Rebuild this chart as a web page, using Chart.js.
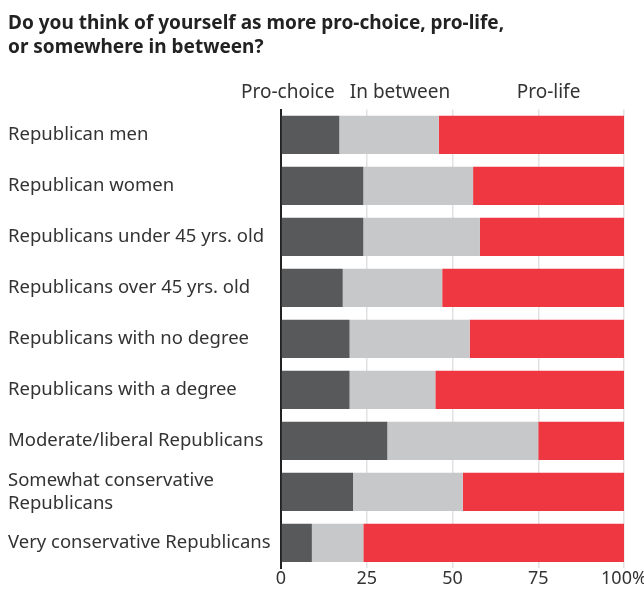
<!DOCTYPE html>
<html>
<head>
<meta charset="utf-8">
<script src="https://cdn.jsdelivr.net/npm/chart.js@4/dist/chart.umd.min.js"></script>
<style>
  body { margin: 0; background: #fff; }
  #wrap { width: 644px; height: 604px; }
</style>
</head>
<body>
<div id="wrap"><canvas id="chart"></canvas></div>
<script>
const categories = [
  "Republican men",
  "Republican women",
  "Republicans under 45 yrs. old",
  "Republicans over 45 yrs. old",
  "Republicans with no degree",
  "Republicans with a degree",
  "Moderate/liberal Republicans",
  ["Somewhat conservative", "Republicans"],
  "Very conservative Republicans"
];
const proChoice = [17, 24, 24, 18, 20, 20, 31, 21, 9];
const inBetween = [29, 32, 34, 29, 35, 25, 44, 32, 15];
const proLife   = [54, 44, 42, 53, 45, 55, 25, 47, 76];
const xTicks = [0, 25, 50, 75, 100];

const FONT = "'Noto Sans', sans-serif";

// column headers over the bars
const headerPlugin = {
  id: 'headers',
  afterDraw(chart) {
    const { ctx, chartArea, scales } = chart;
    const heads = [["Pro-choice", 2], ["In between", 34.7], ["Pro-life", 78]];
    ctx.save();
    ctx.font = "19px " + FONT;
    ctx.fillStyle = "#333";
    ctx.textAlign = "center";
    ctx.textBaseline = "middle";
    heads.forEach(([t, v]) => {
      ctx.fillText(t, scales.x.getPixelForValue(v), chartArea.top - 17);
    });
    ctx.restore();
  }
};

new Chart(document.getElementById('chart'), {
  type: 'bar',
  data: {
    labels: categories,
    datasets: [
      { label: "Pro-choice", data: proChoice, backgroundColor: "#58595b" },
      { label: "In between", data: inBetween, backgroundColor: "#c7c8ca" },
      { label: "Pro-life", data: proLife, backgroundColor: "#ef3742" }
    ]
  },
  options: {
    indexAxis: 'y',
    responsive: true,
    maintainAspectRatio: false,
    animation: false,
    layout: { padding: { left: 8, right: 0, top: 0, bottom: 14 } },
    datasets: { bar: { categoryPercentage: 1, barPercentage: 0.75, borderWidth: 0 } },
    plugins: {
      legend: { display: false },
      tooltip: { enabled: false },
      title: {
        display: true,
        align: 'start',
        text: ["Do you think of yourself as more pro-choice, pro-life,", "or somewhere in between?"],
        color: "#222",
        font: { family: FONT, size: 19, weight: 'bold', lineHeight: 1.25 },
        padding: { top: 12, bottom: 50 }
      }
    },
    scales: {
      x: {
        stacked: true,
        min: 0,
        max: 100,
        afterBuildTicks: s => { s.ticks = xTicks.map(v => ({ value: v })); },
        afterFit: s => { s.paddingRight = 20; },
        ticks: {
          color: "#333",
          font: { family: FONT, size: 18 },
          padding: 0,
          maxRotation: 0,
          callback: v => v === 100 ? "100%" : v
        },
        grid: { color: "#e2e2e4", lineWidth: 1.5, drawTicks: false },
        border: { display: false }
      },
      y: {
        stacked: true,
        afterFit: s => { s.width = 273; },
        ticks: {
          crossAlign: 'far',
          color: "#333",
          font: { family: FONT, size: 18.5, lineHeight: 1.24 }
        },
        grid: { display: false },
        border: { color: "#222", width: 2 }
      }
    }
  },
  plugins: [headerPlugin]
});
</script>
</body>
</html>
